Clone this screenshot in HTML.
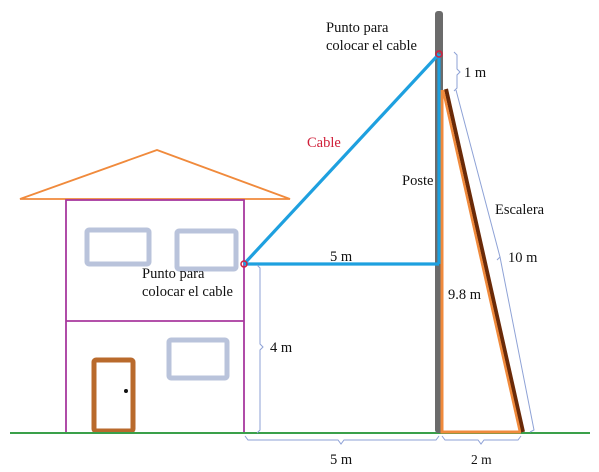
<!DOCTYPE html>
<html><head><meta charset="utf-8"><style>
html,body{margin:0;padding:0;background:#fff}
svg{display:block}
text{font-family:"Liberation Serif",serif;font-size:14.5px;fill:#111}
</style></head><body>
<svg width="599" height="472" viewBox="0 0 599 472">
<g>
<polygon points="20,199 157,150 290,199" fill="none" stroke="#f08a3c" stroke-width="1.8"/>
<rect x="66" y="200" width="178" height="233" fill="none" stroke="#a8389e" stroke-width="1.8"/>
<line x1="66" y1="321" x2="244" y2="321" stroke="#a8389e" stroke-width="1.8"/>
<rect x="87" y="230" width="62" height="34" fill="none" stroke="#b9c3db" stroke-width="5" rx="2"/>
<rect x="177" y="231" width="59" height="38" fill="none" stroke="#b9c3db" stroke-width="5" rx="2"/>
<rect x="169" y="340" width="58" height="38" fill="none" stroke="#b9c3db" stroke-width="5" rx="2"/>
<rect x="94" y="360" width="39" height="71" fill="none" stroke="#b96a2c" stroke-width="5" rx="2"/>
<circle cx="126" cy="391" r="2" fill="#111"/>
</g>
<line x1="10" y1="433" x2="590" y2="433" stroke="#3aa04a" stroke-width="2"/>
<rect x="435" y="11" width="8" height="422" rx="3" fill="#6b6b6b"/>
<g>
<polyline points="442,90 442,432 521,432" fill="none" stroke="#f08a3c" stroke-width="3"/>
<line x1="446" y1="89" x2="523" y2="432" stroke="#6a2a08" stroke-width="4"/>
<line x1="443" y1="90" x2="520" y2="432" stroke="#f08a3c" stroke-width="2.5"/>
</g>
<g stroke="#1ea0df" stroke-width="3.2" fill="none">
<line x1="244" y1="264" x2="439" y2="54"/>
<line x1="244" y1="264" x2="439" y2="264"/>
<line x1="439" y1="54" x2="439" y2="264"/>
</g>
<circle cx="244" cy="264" r="3" fill="none" stroke="#d02040" stroke-width="1.5"/>
<circle cx="439" cy="54" r="3" fill="none" stroke="#d02040" stroke-width="1.5"/>
<g stroke="#8ea2d6" stroke-width="1" fill="none">
<path d="M257,265 L260,268 L260,344 L263,347 L260,350 L260,430 L257,433"/>
<path d="M245,436 L248,440 L338,440 L341,444 L344,440 L436,440 L439,436"/>
<path d="M442,436 L445,440 L478,440 L481,444 L484,440 L518,440 L521,436"/>
<path d="M454,52 L457,55 L457,69 L460,72 L457,75 L457,88 L454,91"/>
<path d="M456,90 L500,257 L497,260 M500,257 L534,430 L530,432"/>
</g>
<text x="326" y="32">Punto para</text>
<text x="326" y="50">colocar el cable</text>
<text x="142" y="278">Punto para</text>
<text x="142" y="296">colocar el cable</text>
<text x="307" y="147" style="fill:#d0203a">Cable</text>
<text x="402" y="185">Poste</text>
<text x="495" y="214">Escalera</text>
<text x="508" y="262">10 m</text>
<text x="448" y="299">9.8 m</text>
<text x="330" y="261">5 m</text>
<text x="270" y="352">4 m</text>
<text x="330" y="464">5 m</text>
<text x="471" y="464" style="font-size:13.5px">2 m</text>
<text x="464" y="77">1 m</text>
</svg>
</body></html>
